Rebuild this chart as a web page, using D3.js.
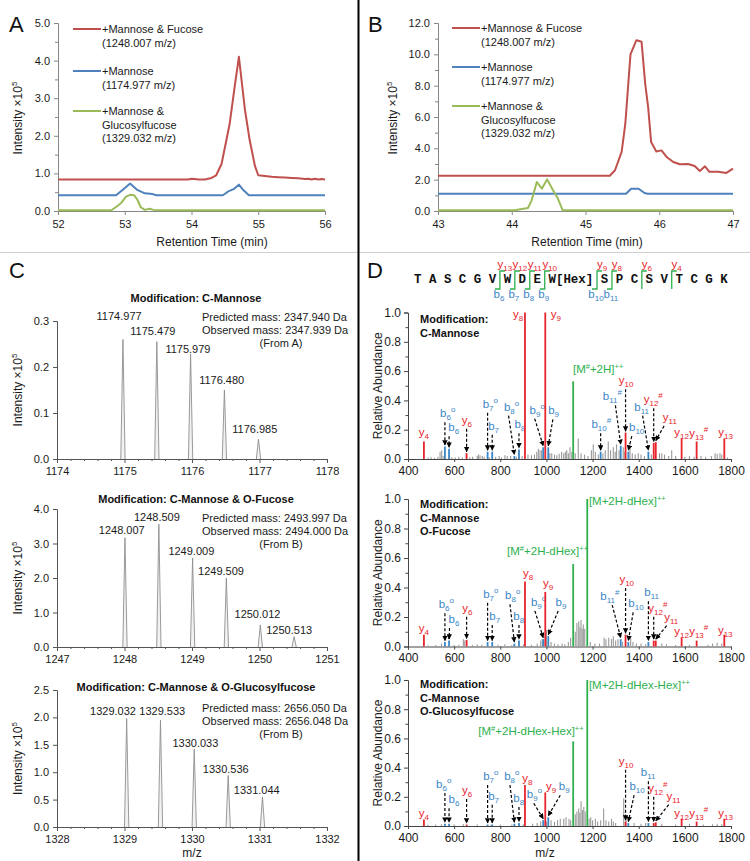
<!DOCTYPE html>
<html><head><meta charset="utf-8">
<script src="https://cdn.jsdelivr.net/npm/d3@7"></script>
<style>body{margin:0;background:#fff}</style>
</head><body>
<svg id="c" width="750" height="861"></svg>
<script>
// ---------------- DATA ----------------
// Chromatograms (time min, intensity x10^5)
const aFucose = [[52,0.84],[53.95,0.84],[54.0,0.86],[54.05,0.85],[54.1,0.84],[54.2,0.84],[54.3,0.88],[54.37,0.95],[54.45,1.25],[54.57,2.3],[54.65,3.35],[54.71,4.1],[54.8,2.7],[54.87,1.9],[54.95,1.2],[55.0,0.95],[55.1,0.93],[55.2,0.91],[55.3,0.9],[55.4,0.89],[55.5,0.88],[55.6,0.87],[55.7,0.85],[55.75,0.86],[55.8,0.84],[55.85,0.86],[55.9,0.84],[55.95,0.85],[56,0.84]];
const aMannose = [[52,0.42],[52.87,0.42],[52.98,0.58],[53.08,0.73],[53.18,0.57],[53.3,0.47],[53.42,0.45],[53.47,0.42],[54.47,0.42],[54.55,0.52],[54.63,0.58],[54.71,0.7],[54.78,0.55],[54.86,0.42],[56,0.42]];
const aGlcFuc = [[52,0.02],[52.8,0.02],[52.88,0.12],[52.95,0.22],[53.02,0.38],[53.08,0.43],[53.14,0.42],[53.19,0.3],[53.24,0.1],[53.3,0.03],[53.37,0.06],[53.43,0.03],[53.5,0.02],[56,0.02]];
const bFucose = [[43,2.25],[45.33,2.25],[45.4,2.6],[45.49,3.77],[45.54,5.57],[45.61,10.0],[45.69,10.9],[45.76,10.8],[45.81,8.1],[45.85,6.6],[45.89,4.4],[45.96,3.8],[46.03,3.87],[46.1,3.45],[46.19,3.13],[46.28,2.98],[46.39,3.0],[46.48,2.87],[46.55,2.55],[46.62,2.85],[46.68,2.5],[46.8,2.5],[46.91,2.43],[47,2.7]];
const bMannose = [[43,1.1],[45.55,1.1],[45.62,1.42],[45.72,1.42],[45.8,1.15],[45.84,1.1],[47,1.1]];
const bGlcFuc = [[43,0.05],[44.04,0.05],[44.22,0.19],[44.27,0.68],[44.34,1.85],[44.41,1.43],[44.48,2.02],[44.56,1.32],[44.62,0.85],[44.69,0.05],[47,0.05]];
const legendLines = [["+Mannose & Fucose","(1248.007 m/z)"],["+Mannose","(1174.977 m/z)"],["+Mannose &","Glucosylfucose","(1329.032 m/z)"]];
const chromColors = ["#C0504D","#4F81BD","#9BBB59"];

// Isotope clusters
const c1Mz = [1174.977,1175.479,1175.979,1176.480,1176.985];
const c1Int = [0.26,0.255,0.228,0.15,0.043];
const c2Mz = [1248.007,1248.509,1249.009,1249.509,1250.012,1250.513];
const c2Int = [3.17,3.56,2.58,2.0,0.64,0.3];
const c3Mz = [1329.032,1329.533,1330.033,1330.536,1331.044];
const c3Int = [1.98,1.95,1.42,0.94,0.55];
const cTitles = ["Modification: C-Mannose","Modification: C-Mannose & O-Fucose","Modification: C-Mannose & O-Glucosylfucose"];
const cNotes = [["Predicted mass: 2347.940 Da","Observed mass: 2347.939 Da","(From A)"],
                ["Predicted mass: 2493.997 Da","Observed mass: 2494.000 Da","(From B)"],
                ["Predicted mass: 2656.050 Da","Observed mass: 2656.048 Da","(From B)"]];
// label anchor (m/z, intensity) for the peak labels
const c1LabelAt = [[1174.92,0.302],[1175.42,0.27],[1175.94,0.23],[1176.44,0.163],[1176.93,0.057]];
const c2LabelAt = [[1247.96,3.28],[1248.48,3.65],[1248.99,2.67],[1249.43,2.09],[1249.97,0.84],[1250.44,0.38]];
const c3LabelAt = [[1328.83,2.05],[1329.56,2.05],[1330.05,1.46],[1330.5,0.99],[1330.96,0.6]];

// Peptide sequence and fragment sites
const residues = ["T","A","S","C","G","V","W","D","E","W[Hex]","S","P","C","S","V","T","C","G","K"];
const cleavages = [[6,"6","13"],[7,"7","12"],[8,"8","11"],[9,"9","10"],[10,"10","9"],[11,"11","8"],[13,null,"6"],[15,null,"4"]];

// MS/MS ions: name, m/z, relative abundance
const d1Ions = [["y4",469,0.12],["b6o",560,0.085],["b6",578,0.07],["y6",654,0.04],["b7o",745,0.05],["b7",765,0.05],["b8o",861,0.02],["b8",881,0.065],["y8",907,1.0],["b9o",986,0.08],["y9",995,1.0],["b9",1008,0.08],["b10#",1235,0.05],["b11#",1322,0.09],["y10",1343,0.18],["b10",1355,0.05],["b11",1442,0.05],["y12#",1465,0.11],["y11",1474,0.115],["y12",1586,0.14],["y13#",1651,0.12],["y13",1771,0.14]];
const d2Ions = [["y4",469,0.08],["b6o",560,0.03],["b6",578,0.04],["y6",654,0.045],["b7o",745,0.03],["b7",765,0.03],["b8o",861,0.02],["b8",881,0.04],["y8",907,0.44],["b9o",986,0.05],["y9",995,0.37],["b9",1008,0.07],["b11#",1322,0.05],["y10",1343,0.08],["b10",1355,0.03],["b11",1442,0.03],["y12#",1465,0.04],["y11",1474,0.04],["y12",1586,0.06],["y13#",1651,0.04],["y13",1771,0.08]];
const d3Ions = [["y4",469,0.045],["b6o",560,0.015],["b6",578,0.015],["y6",654,0.01],["b7o",745,0.01],["b7",765,0.01],["b8o",861,0.015],["b8",881,0.02],["y8",907,0.28],["b9o",986,0.04],["y9",995,0.23],["b9",1008,0.06],["y10",1343,0.03],["b10",1355,0.02],["b11",1442,0.02],["y12#",1465,0.02],["y11",1474,0.025],["y12",1586,0.05],["y13#",1651,0.03],["y13",1771,0.05]];
// precursor ions: label, m/z, abundance
const d1Prec = [["[M#+2H]++",1116,0.53]];
const d2Prec = [["[M#+2H-dHex]++",1116,0.56],["[M+2H-dHex]++",1177,1.0]];
const d3Prec = [["[M#+2H-dHex-Hex]++",1116,0.58],["[M+2H-dHex-Hex]++",1177,1.0]];
// unassigned peaks
const d1Gray = [[487,0.01],[500,0.012],[515,0.008],[530,0.015],[539,0.05],[546,0.06],[552,0.02],[590,0.012],[605,0.01],[620,0.015],[635,0.01],[668,0.012],[680,0.015],[700,0.02],[705,0.03],[712,0.025],[722,0.02],[730,0.015],[752,0.012],[780,0.015],[795,0.02],[805,0.01],[820,0.025],[830,0.02],[845,0.02],[870,0.015],[895,0.02],[920,0.03],[935,0.025],[948,0.03],[958,0.05],[965,0.07],[972,0.06],[979,0.06],[1015,0.04],[1023,0.04],[1035,0.03],[1045,0.025],[1055,0.035],[1066,0.05],[1075,0.04],[1082,0.05],[1088,0.06],[1095,0.04],[1102,0.08],[1110,0.05],[1125,0.04],[1138,0.14],[1150,0.04],[1165,0.03],[1180,0.02],[1195,0.06],[1203,0.1],[1212,0.05],[1225,0.03],[1245,0.04],[1255,0.06],[1268,0.12],[1278,0.06],[1290,0.08],[1298,0.05],[1304,0.1],[1315,0.06],[1333,0.08],[1340,0.05],[1362,0.11],[1372,0.04],[1385,0.03],[1398,0.04],[1410,0.03],[1425,0.02],[1455,0.03],[1490,0.04],[1500,0.04],[1512,0.03],[1530,0.02],[1543,0.06],[1560,0.02],[1600,0.015],[1620,0.02],[1640,0.015],[1670,0.02],[1690,0.015],[1715,0.02],[1731,0.04],[1740,0.035],[1752,0.04],[1760,0.03],[1785,0.01]];
const d2Gray = [[487,0.008],[520,0.01],[545,0.02],[600,0.01],[620,0.012],[640,0.05],[646,0.04],[680,0.01],[700,0.015],[720,0.012],[790,0.012],[820,0.015],[850,0.01],[900,0.015],[935,0.012],[960,0.02],[975,0.04],[982,0.05],[1000,0.11],[1020,0.03],[1035,0.02],[1050,0.015],[1068,0.02],[1080,0.015],[1095,0.03],[1105,0.06],[1125,0.1],[1132,0.16],[1140,0.17],[1145,0.13],[1150,0.18],[1155,0.12],[1160,0.15],[1166,0.12],[1190,0.03],[1210,0.02],[1230,0.02],[1250,0.06],[1258,0.05],[1270,0.06],[1282,0.05],[1290,0.07],[1300,0.04],[1310,0.05],[1330,0.03],[1365,0.06],[1375,0.03],[1390,0.02],[1410,0.02],[1430,0.015],[1500,0.02],[1520,0.015],[1560,0.01],[1620,0.01],[1700,0.012],[1720,0.02],[1740,0.025],[1760,0.02]];
const d3Gray = [[487,0.008],[520,0.01],[545,0.012],[600,0.01],[640,0.012],[700,0.01],[760,0.008],[800,0.01],[850,0.01],[900,0.012],[940,0.015],[960,0.02],[975,0.03],[1000,0.03],[1020,0.04],[1035,0.03],[1048,0.04],[1060,0.05],[1075,0.05],[1085,0.06],[1098,0.05],[1105,0.04],[1125,0.08],[1132,0.1],[1140,0.12],[1145,0.09],[1150,0.17],[1156,0.11],[1162,0.13],[1168,0.1],[1185,0.05],[1192,0.06],[1200,0.04],[1212,0.05],[1222,0.03],[1235,0.04],[1248,0.12],[1258,0.04],[1270,0.03],[1282,0.05],[1290,0.03],[1300,0.02],[1335,0.19],[1345,0.06],[1380,0.02],[1410,0.015],[1430,0.02],[1500,0.015],[1560,0.01],[1620,0.015],[1680,0.01],[1720,0.012],[1740,0.015],[1760,0.012]];
// annotation layout: label m/z, label abundance (baseline), arrow start m/z (null = no arrow)
const d1LabelAt = [[469,0.16,null],[572,0.285,560],[598,0.19,578],[655,0.24,654],[757,0.35,745],[771,0.2,765],[849,0.33,836],[885,0.21,881],[877,0.965,null],[960,0.31,949],[1041,0.965,null],[1031,0.305,1028],[1238,0.21,1235],[1286,0.4,1299],[1345,0.51,1343],[1391,0.19,1370],[1413,0.33,1417],[1463,0.38,1465],[1535,0.26,1510],[1586,0.157,null],[1660,0.153,null],[1777,0.157,null]];
const d2LabelAt = [[469,0.1,null],[566,0.26,560],[599,0.16,580],[657,0.235,654],[759,0.33,745],[776,0.18,765],[854,0.32,842],[880,0.18,881],[921,0.47,null],[966,0.275,950],[1007,0.405,null],[1063,0.275,1051],[1275,0.315,1285],[1348,0.43,1343],[1388,0.265,1376],[1456,0.34,1442],[1483,0.236,1465],[1541,0.175,1521],[1586,0.08,null],[1660,0.075,null],[1775,0.085,null]];
const d3LabelAt = [[469,0.064,null],[555,0.26,560],[599,0.155,578],[656,0.22,654],[759,0.315,745],[771,0.18,765],[850,0.315,842],[880,0.165,881],[917,0.3,null],[948,0.19,945],[1020,0.245,null],[1077,0.245,1060],[1345,0.42,1343],[1393,0.245,1380],[1441,0.34,1442],[1483,0.235,1465],[1551,0.18,1530],[1586,0.064,null],[1660,0.06,null],[1777,0.064,null]];
const d1PrecAt = [[1115,0.59,"start"]];
const d2PrecAt = [[1005,0.62,"middle"],[1184,0.96,"start"]];
const d3PrecAt = [[933,0.62,"middle"],[1184,0.94,"start"]];
const dMods = [["Modification:","C-Mannose"],["Modification:","C-Mannose","O-Fucose"],["Modification:","C-Mannose","O-Glucosylfucose"]];

// ---------------- DRAW ----------------
const FONT = "'Liberation Sans', Arial, sans-serif";
const RED = "#E8232B", BLUE = "#3A86C6", GREEN = "#2DB04E", GRAY = "#9a9a9a";
const svg = d3.select("#c").attr("font-family", FONT);

const defs = svg.append("defs");
defs.append("marker").attr("id","ah").attr("viewBox","0 0 10 10").attr("refX",9).attr("refY",5)
  .attr("markerWidth",4.5).attr("markerHeight",4.5).attr("orient","auto")
  .append("path").attr("d","M0,0 L10,5 L0,10 z").attr("fill","#000");

// dividers
svg.append("line").attr("x1",0).attr("x2",750).attr("y1",252.5).attr("y2",252.5).attr("stroke","#d0d0d0").attr("stroke-width",1);
svg.append("line").attr("x1",358.5).attr("x2",358.5).attr("y1",0).attr("y2",861).attr("stroke","#000").attr("stroke-width",2);

// panel letters
[["A",9,32],["B",368,32],["C",9,278],["D",367,278]].forEach(([t,x,y]) =>
  svg.append("text").attr("x",x).attr("y",y).attr("font-size",22).attr("fill","#111").text(t));

function styleAxis(g, fs, col) {
  g.attr("font-family", FONT).attr("font-size", fs);
  g.select(".domain").attr("stroke", col);
  g.selectAll(".tick line").attr("stroke", col);
  g.selectAll(".tick text").attr("fill", "#1a1a1a");
}
function minor(g, axis) { g.call(axis); g.select(".domain").remove(); g.selectAll("text").remove(); }

function intensityLabel(cx, cy) {
  const t = svg.append("text").attr("transform",`translate(${cx},${cy}) rotate(-90)`)
    .attr("text-anchor","middle").attr("font-size",12).attr("fill","#1a1a1a");
  t.append("tspan").text("Intensity \u00d710");
  t.append("tspan").attr("font-size",8).attr("dy",-5).text("5");
}

// ---- Chromatograms ----
function chrom(o) {
  const x = d3.scaleLinear().domain(o.xd).range([o.left, o.right]);
  const y = d3.scaleLinear().domain(o.yd).range([o.bottom, o.top]);
  const col = "#868686";
  const gy = svg.append("g").attr("transform",`translate(${o.left},0)`)
    .call(d3.axisLeft(y).tickValues(o.yt).tickFormat(d3.format(".1f")).tickSize(4).tickPadding(4));
  styleAxis(gy, 11, col);
  const gym = svg.append("g").attr("transform",`translate(${o.left},0)`);
  minor(gym, d3.axisLeft(y).tickValues(o.ym).tickSize(3));
  gym.selectAll("line").attr("stroke",col);
  const gx = svg.append("g").attr("transform",`translate(0,${o.bottom})`)
    .call(d3.axisBottom(x).tickValues(o.xt).tickFormat(d3.format("d")).tickSize(4).tickPadding(5));
  styleAxis(gx, 11, col);
  const line = d3.line().x(d => x(d[0])).y(d => y(d[1]));
  o.series.forEach((s, i) => {
    svg.append("path").datum(s).attr("d", line).attr("fill","none")
      .attr("stroke", chromColors[i]).attr("stroke-width", 2).attr("stroke-linejoin","round");
  });
  // legend
  o.legY.forEach((ly, i) => {
    svg.append("line").attr("x1", o.legX).attr("x2", o.legX + 28).attr("y1", ly).attr("y2", ly)
      .attr("stroke", chromColors[i]).attr("stroke-width", 2);
    legendLines[i].forEach((s, j) => svg.append("text").attr("x", o.legX + 29).attr("y", ly + 4 + j * 13.5)
      .attr("font-size", 11).attr("fill","#1a1a1a").text(s));
  });
  intensityLabel(o.ylabX, 118);
  svg.append("text").attr("x", o.xlabX).attr("y", 246).attr("text-anchor","middle")
    .attr("font-size",12).attr("fill","#1a1a1a").text("Retention Time (min)");
}
chrom({xd:[52,56], yd:[0,5], left:58, right:325, top:23, bottom:211,
  yt:[0,1,2,3,4,5], ym:d3.range(0.5,5,1), xt:[52,53,54,55,56],
  series:[aFucose,aMannose,aGlcFuc], legX:73, legY:[29,71,111], ylabX:22, xlabX:212});
chrom({xd:[43,47], yd:[0,12], left:438, right:733, top:23, bottom:211,
  yt:[0,2,4,6,8,10,12], ym:d3.range(1,12,2), xt:[43,44,45,46,47],
  series:[bFucose,bMannose,bGlcFuc], legX:452, legY:[28,67,106], ylabX:397, xlabX:587});

// ---- Isotope clusters ----
function iso(o) {
  const x = d3.scaleLinear().domain([o.mz0, o.mz0 + 4]).range([57, 327]);
  const y = d3.scaleLinear().domain([0, o.ymax]).range([o.bottom, o.top]);
  const col = "#555";
  const gy = svg.append("g").attr("transform","translate(57,0)")
    .call(d3.axisLeft(y).tickValues(o.yt).tickFormat(d3.format(".1f")).tickSize(4).tickPadding(4));
  styleAxis(gy, 11, col);
  const gx = svg.append("g").attr("transform",`translate(0,${o.bottom})`)
    .call(d3.axisBottom(x).tickValues(d3.range(o.mz0, o.mz0 + 5)).tickFormat(d3.format("d")).tickSize(4).tickPadding(4));
  styleAxis(gx, 11, col);
  const gxm = svg.append("g").attr("transform",`translate(0,${o.bottom})`);
  minor(gxm, d3.axisBottom(x).tickValues(d3.range(0,20).map(i => o.mz0 + 0.2*i).filter((v,i)=>i%5)).tickSize(2));
  gxm.selectAll("line").attr("stroke",col);
  o.mz.forEach((m, i) => {
    svg.append("path").attr("d", `M${x(m-0.032)},${y(0)}L${x(m)},${y(o.int[i])}L${x(m+0.032)},${y(0)}`)
      .attr("fill","#f2f2f2").attr("stroke","#8f8f8f").attr("stroke-width",0.9);
    svg.append("text").attr("x", x(o.lab[i][0])).attr("y", y(o.lab[i][1])).attr("text-anchor","middle")
      .attr("font-size",11).attr("fill","#1a1a1a").text(m.toFixed(3));
  });
  svg.append("text").attr("x", 196).attr("y", o.titleY).attr("text-anchor","middle")
    .attr("font-size",11).attr("font-weight","bold").attr("fill","#111").text(o.title);
  o.notes.forEach((s, j) => svg.append("text").attr("x", j < 2 ? 202 : 281).attr("y", o.noteY + j * 13)
    .attr("text-anchor", j < 2 ? "start" : "middle").attr("font-size",11).attr("fill","#1a1a1a").text(s));
  intensityLabel(22, (o.top + o.bottom) / 2);
}
iso({mz0:1174, ymax:0.3, top:321, bottom:459, yt:[0,0.1,0.2,0.3], mz:c1Mz, int:c1Int, lab:c1LabelAt, title:cTitles[0], titleY:302, notes:cNotes[0], noteY:321});
iso({mz0:1247, ymax:4, top:509, bottom:647, yt:[0,1,2,3,4], mz:c2Mz, int:c2Int, lab:c2LabelAt, title:cTitles[1], titleY:503, notes:cNotes[1], noteY:522});
iso({mz0:1328, ymax:2.5, top:690, bottom:827, yt:[0,0.5,1,1.5,2,2.5], mz:c3Mz, int:c3Int, lab:c3LabelAt, title:cTitles[2], titleY:691, notes:cNotes[2], noteY:712});
svg.append("text").attr("x",192).attr("y",857).attr("text-anchor","middle").attr("font-size",12).attr("fill","#1a1a1a").text("m/z");

// ---- Sequence ----
function ionText(g, name, x, yb, color, anchor) {
  const m = name.match(/^([by])(\d+)([o#]?)$/);
  const t = g.append("text").attr("x", x).attr("y", yb).attr("fill", color)
    .attr("font-size", 11.5).attr("text-anchor", anchor || "middle");
  t.append("tspan").text(m[1]);
  t.append("tspan").attr("font-size", 8).attr("dy", 3).text(m[2]);
  if (m[3]) t.append("tspan").attr("font-size", 8).attr("dy", -8).text(m[3] === "o" ? "o" : "#");
  return t;
}
{
  const cw = 7.47, x0 = 414, base = 283;
  const starts = []; let p = 0;
  residues.forEach(r => { starts.push(p); p += r.length + 1; });
  residues.forEach((r, i) => svg.append("text").attr("x", x0 + starts[i] * cw).attr("y", base)
    .attr("font-family","'Liberation Mono', 'DejaVu Sans Mono', monospace").attr("font-weight","bold")
    .attr("font-size", 12.45).attr("fill","#111").text(r));
  cleavages.forEach(([after, b, yy]) => {
    const s = starts[after - 1] + residues[after - 1].length;
    const bx = x0 + (s + 0.5) * cw;
    const path = d3.path();
    if (b) { path.moveTo(bx - 5, 289); path.lineTo(bx, 289); } else path.moveTo(bx, 289);
    path.lineTo(bx, 271); path.lineTo(bx + 5, 271);
    svg.append("path").attr("d", path.toString()).attr("fill","none").attr("stroke", GREEN).attr("stroke-width",1.3);
    ionText(svg, "y" + yy, bx + 5, 268, RED);
    if (b) ionText(svg, "b" + b, bx - 1, 298, BLUE);
  });
}

// ---- MS/MS spectra ----
function precText(g, s, x, yb, anchor) {
  const t = g.append("text").attr("x", x).attr("y", yb).attr("fill", GREEN).attr("font-size", 11.5).attr("text-anchor", anchor);
  const parts = s.replace("++","").split("#");
  if (parts.length > 1) {
    t.append("tspan").text(parts[0]);
    t.append("tspan").attr("font-size",7.5).attr("dy",-4).text("#");
    t.append("tspan").attr("dy",4).text(parts[1]);
  } else t.append("tspan").text(parts[0]);
  t.append("tspan").attr("font-size",7.5).attr("dy",-4).text("++");
}
function ms(o) {
  const x = d3.scaleLinear().domain([400,1800]).range([408,731]);
  const y = d3.scaleLinear().domain([0,1]).range([o.bottom, o.top]);
  const col = "#444";
  const gy = svg.append("g").attr("transform","translate(408,0)")
    .call(d3.axisLeft(y).tickValues([0,0.2,0.4,0.6,0.8,1]).tickFormat(d3.format(".1f")).tickSize(4).tickPadding(3));
  styleAxis(gy, 12, col);
  const gym = svg.append("g").attr("transform","translate(408,0)");
  minor(gym, d3.axisLeft(y).tickValues([0.1,0.3,0.5,0.7,0.9]).tickSize(2.5));
  gym.selectAll("line").attr("stroke",col);
  const gx = svg.append("g").attr("transform",`translate(0,${o.bottom})`)
    .call(d3.axisBottom(x).tickValues(d3.range(400,1801,200)).tickFormat(d3.format("d")).tickSize(3).tickPadding(4));
  styleAxis(gx, 12, col);
  const g = svg.append("g");
  g.selectAll(".gp").data(o.gray).join("line").attr("x1", d => x(d[0])).attr("x2", d => x(d[0]))
    .attr("y1", y(0)).attr("y2", d => y(d[1])).attr("stroke", GRAY).attr("stroke-width", 1.1);
  o.ions.forEach((d, i) => {
    const color = d[0][0] === "b" ? BLUE : RED;
    g.append("line").attr("x1", x(d[1])).attr("x2", x(d[1])).attr("y1", y(0)).attr("y2", y(d[2]))
      .attr("stroke", color).attr("stroke-width", 1.8);
    const [lx, ly, ax] = o.lab[i];
    ionText(g, d[0], x(lx), y(ly), color);
    if (ax !== null) {
      g.append("line").attr("x1", x(ax)).attr("y1", y(ly) + 5).attr("x2", x(d[1])).attr("y2", y(d[2]) - 1.5)
        .attr("stroke","#000").attr("stroke-width",1.2).attr("stroke-dasharray","3,2").attr("marker-end","url(#ah)");
    }
  });
  o.prec.forEach((d, i) => {
    g.append("line").attr("x1", x(d[1])).attr("x2", x(d[1])).attr("y1", y(0)).attr("y2", y(d[2]))
      .attr("stroke", GREEN).attr("stroke-width", 1.8);
    const [lx, ly, anchor] = o.precLab[i];
    precText(g, d[0], x(lx), y(ly), anchor);
  });
  o.mods.forEach((s, j) => g.append("text").attr("x", 420).attr("y", o.modY + j * 13.5)
    .attr("font-size",11).attr("font-weight","bold").attr("fill","#111").text(s));
  svg.append("text").attr("transform",`translate(382,${(o.top + o.bottom)/2}) rotate(-90)`)
    .attr("text-anchor","middle").attr("font-size",12).attr("fill","#1a1a1a").text("Relative Abundance");
}
ms({top:312.5, bottom:459, gray:d1Gray, ions:d1Ions, lab:d1LabelAt, prec:d1Prec, precLab:d1PrecAt, mods:dMods[0], modY:323});
ms({top:499, bottom:646.5, gray:d2Gray, ions:d2Ions, lab:d2LabelAt, prec:d2Prec, precLab:d2PrecAt, mods:dMods[1], modY:508});
ms({top:680, bottom:826, gray:d3Gray, ions:d3Ions, lab:d3LabelAt, prec:d3Prec, precLab:d3PrecAt, mods:dMods[2], modY:688});
svg.append("text").attr("x",545).attr("y",857).attr("text-anchor","middle").attr("font-size",12).attr("fill","#1a1a1a").text("m/z");
</script>
</body></html>
